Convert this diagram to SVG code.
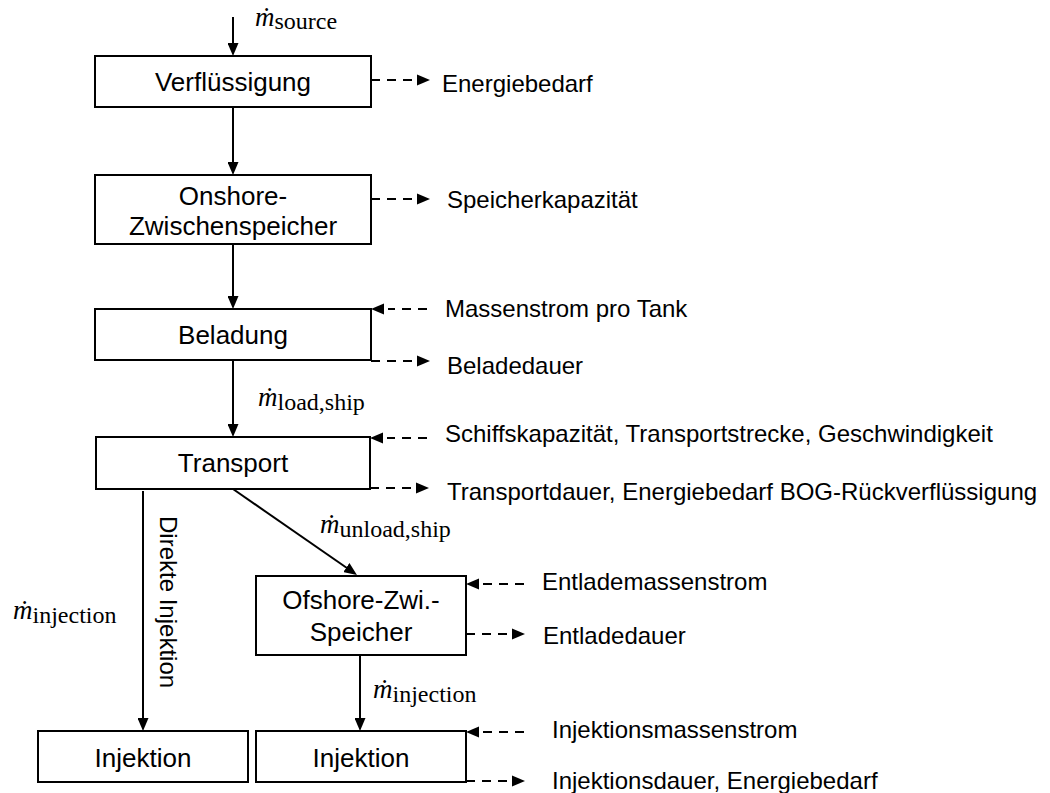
<svg xmlns="http://www.w3.org/2000/svg" width="1050" height="793" viewBox="0 0 1050 793">
<style>
.box{fill:#fff;stroke:#000;stroke-width:2}
.lbl{font-family:"Liberation Sans",Arial,sans-serif;font-size:26px;fill:#000;text-anchor:middle}
.side{font-family:"Liberation Sans",Arial,sans-serif;font-size:24px;fill:#000}
.solid{stroke:#000;stroke-width:2;fill:none}
.dash{stroke:#000;stroke-width:2;fill:none;stroke-dasharray:9,7}
.math{font-family:"Liberation Serif","Times New Roman",serif;fill:#000}
.mi{font-style:italic;font-size:27px}
.sub{font-size:24px}
</style>
<defs>
<marker id="ah" viewBox="0 0 13 11" refX="10" refY="5.5" markerWidth="13" markerHeight="11" markerUnits="userSpaceOnUse" orient="auto">
<path d="M0,0 L13,5.5 L0,11 z" fill="#000"/>
</marker>
<marker id="dh" viewBox="0 0 17 12" refX="0" refY="6" markerWidth="17" markerHeight="12" markerUnits="userSpaceOnUse" orient="auto">
<path d="M4,0.5 L17,6 L4,11.5 z" fill="#000"/>
</marker>
</defs>

<g id="connectors">
<line class="solid" x1="233" y1="17" x2="233" y2="53" marker-end="url(#ah)"/>
<line class="solid" x1="233" y1="107" x2="233" y2="172" marker-end="url(#ah)"/>
<line class="solid" x1="233" y1="244" x2="233" y2="306" marker-end="url(#ah)"/>
<line class="solid" x1="233" y1="360" x2="233" y2="434" marker-end="url(#ah)"/>
<line class="solid" x1="233" y1="489" x2="354.5" y2="573.3" marker-end="url(#ah)"/>
<line class="solid" x1="143" y1="491" x2="143" y2="728" marker-end="url(#ah)"/>
<line class="solid" x1="360" y1="655" x2="360" y2="728" marker-end="url(#ah)"/>

<line class="dash" x1="371" y1="80" x2="413" y2="80" marker-end="url(#dh)"/>
<line class="dash" x1="371" y1="199" x2="413" y2="199" marker-end="url(#dh)"/>
<line class="dash" x1="427" y1="309" x2="388" y2="309" marker-end="url(#dh)"/>
<line class="dash" x1="371" y1="361" x2="413" y2="361" marker-end="url(#dh)"/>
<line class="dash" x1="427" y1="438" x2="387" y2="438" marker-end="url(#dh)"/>
<line class="dash" x1="370" y1="488" x2="412" y2="488" marker-end="url(#dh)"/>
<line class="dash" x1="524" y1="584" x2="483" y2="584" marker-end="url(#dh)"/>
<line class="dash" x1="466" y1="634" x2="508" y2="634" marker-end="url(#dh)"/>
<line class="dash" x1="524" y1="732" x2="483" y2="732" marker-end="url(#dh)"/>
<line class="dash" x1="466" y1="781" x2="508" y2="781" marker-end="url(#dh)"/>

<text class="math" x="255" y="26"><tspan class="mi">ṁ</tspan><tspan class="sub" dy="3">source</tspan></text>
<text class="math" x="258" y="406"><tspan class="mi">ṁ</tspan><tspan class="sub" dy="4">load,ship</tspan></text>
<text class="math" x="320" y="533"><tspan class="mi">ṁ</tspan><tspan class="sub" dy="4">unload,ship</tspan></text>
<text class="math" x="13" y="619"><tspan class="mi">ṁ</tspan><tspan class="sub" dy="4">injection</tspan></text>
<text class="math" x="373" y="698"><tspan class="mi">ṁ</tspan><tspan class="sub" dy="4">injection</tspan></text>
<text class="side" transform="translate(160,516) rotate(90)" x="0" y="0">Direkte Injektion</text>

<text class="side" x="442" y="92">Energiebedarf</text>
<text class="side" x="447" y="208">Speicherkapazität</text>
<text class="side" x="445" y="317">Massenstrom pro Tank</text>
<text class="side" x="447" y="374">Beladedauer</text>
<text class="side" x="445" y="442">Schiffskapazität, Transportstrecke, Geschwindigkeit</text>
<text class="side" x="447" y="500">Transportdauer, Energiebedarf BOG-Rückverflüssigung</text>
<text class="side" x="542" y="590">Entlademassenstrom</text>
<text class="side" x="543" y="644">Entladedauer</text>
<text class="side" x="552" y="738">Injektionsmassenstrom</text>
<text class="side" x="552" y="789">Injektionsdauer, Energiebedarf</text>
</g>

<g id="verfluessigung">
<rect class="box" x="95" y="56" width="276" height="51"/>
<text class="lbl" x="233" y="91">Verflüssigung</text>
</g>
<g id="onshore">
<rect class="box" x="95" y="175" width="276" height="69"/>
<text class="lbl" x="233" y="205">Onshore-</text>
<text class="lbl" x="233" y="235">Zwischenspeicher</text>
</g>
<g id="beladung">
<rect class="box" x="95" y="309" width="276" height="51"/>
<text class="lbl" x="233" y="344">Beladung</text>
</g>
<g id="transport">
<rect class="box" x="96" y="437" width="274" height="52"/>
<text class="lbl" x="233" y="472">Transport</text>
</g>
<g id="offshore">
<rect class="box" x="256" y="576" width="210" height="79"/>
<text class="lbl" x="361" y="609">Ofshore-Zwi.-</text>
<text class="lbl" x="361" y="641">Speicher</text>
</g>
<g id="injektion1">
<rect class="box" x="38" y="731" width="210" height="51"/>
<text class="lbl" x="143" y="767">Injektion</text>
</g>
<g id="injektion2">
<rect class="box" x="256" y="731" width="210" height="51"/>
<text class="lbl" x="361" y="767">Injektion</text>
</g>
</svg>
